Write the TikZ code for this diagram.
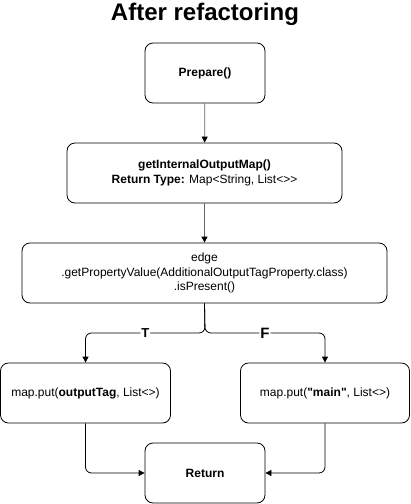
\documentclass[tikz,border=0pt]{standalone}
\usepackage{fontspec}
\setmainfont{Liberation Sans}[Ligatures=TeXOff]
\usetikzlibrary{arrows.meta}
\tikzset{
  stepbox/.style={draw=black, line width=0.8pt, rounded corners=8pt, align=center,
    font=\fontsize{12}{14.5}\selectfont, inner sep=0pt},
  flow/.style={-{Triangle[width=6pt,length=6pt,color=black]}, line width=0.8pt},
  branch/.style={font=\fontsize{13}{14}\selectfont\bfseries, fill=white, inner sep=1pt}
}
\begin{document}
\begin{tikzpicture}[x=1pt,y=-1pt]
\useasboundingbox (0,0) rectangle (411,504);
\node[font=\fontsize{24}{26}\selectfont\bfseries] (title) at (205,14) {After refactoring};
\node[stepbox, minimum width=120pt, minimum height=60pt] (prep) at (205,73) {\textbf{Prepare()}};
\node[stepbox, minimum width=275pt, minimum height=60pt] (map) at (204.5,173)
  {\textbf{getInternalOutputMap()}\\\textbf{Return Type:} Map<String, List<>{}>};
\node[stepbox, minimum width=365pt, minimum height=60pt] (edge) at (204.5,273)
  {edge\\.getPropertyValue(AdditionalOutputTagProperty.class)\\.isPresent()};
\node[stepbox, minimum width=170pt, minimum height=60pt] (tput) at (85.5,393)
  {map.put(\textbf{outputTag}, List<>)};
\node[stepbox, minimum width=169pt, minimum height=60pt] (fput) at (325,393)
  {map.put(\textbf{"main"}, List<>)};
\node[stepbox, minimum width=120pt, minimum height=60pt] (ret) at (205,473) {\textbf{Return}};
\coordinate (split) at (205,333);
% arrows
\draw[flow, draw=black!60] (prep) -- (map);
\draw[flow, draw=black!60] (map) -- (edge);
\draw[flow, rounded corners=6pt] (edge.south) -- (split) -| node[branch, pos=0.25] {T} (tput.north);
\draw[flow, rounded corners=6pt] (edge.south) -- (split) -| node[branch, pos=0.25, font=\fontsize{15}{16}\selectfont\bfseries] {F} (fput.north);
\draw[flow, rounded corners=6pt] (tput.south) |- (ret.west);
\draw[flow, rounded corners=6pt] (fput.south) |- (ret.east);
\end{tikzpicture}
\end{document}
